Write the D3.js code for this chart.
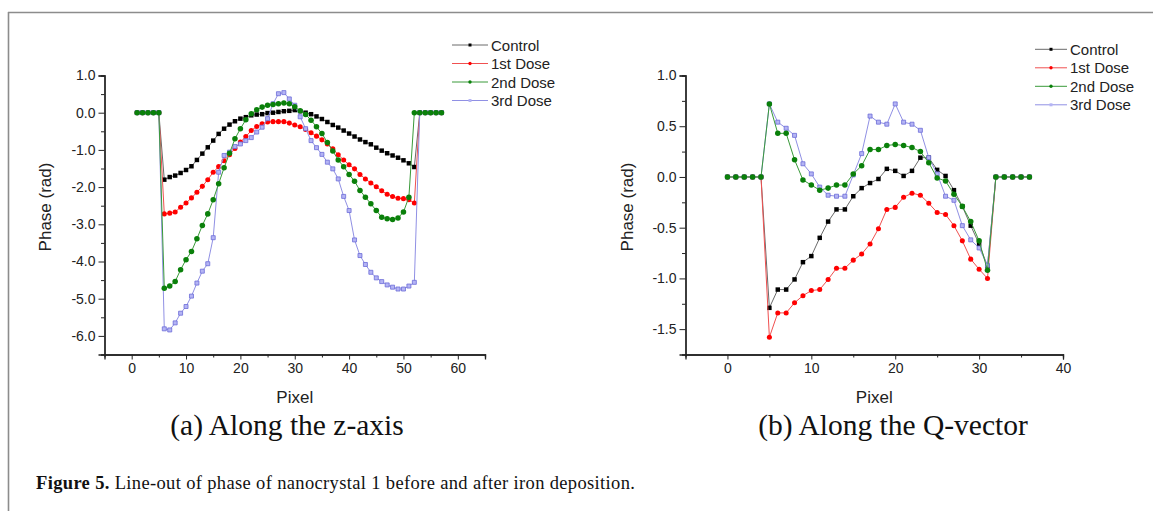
<!DOCTYPE html>
<html>
<head>
<meta charset="utf-8">
<script src="https://cdn.jsdelivr.net/npm/d3@7"></script>
<style>
  body { margin: 0; background: #fff; }
</style>
</head>
<body>
<script>
// panel (a): pixel along z-axis
var zPixel = [1, 2, 3, 4, 5, 6, 7, 8, 9, 10, 11, 12, 13, 14, 15, 16, 17, 18, 19, 20,
    21, 22, 23, 24, 25, 26, 27, 28, 29, 30, 31, 32, 33, 34, 35, 36, 37, 38, 39, 40,
    41, 42, 43, 44, 45, 46, 47, 48, 49, 50, 51, 52, 53, 54, 55, 56, 57]
var zControl = [0, 0, 0, 0, 0, -1.80, -1.73, -1.69, -1.62, -1.54, -1.44, -1.27, -1.10, -0.93, -0.75, -0.57, -0.43, -0.32, -0.23, -0.16,
    -0.12, -0.07, -0.05, -0.04, -0.01, 0.00, 0.02, 0.04, 0.05, 0.07, 0.04, 0.00, -0.04, -0.10, -0.17, -0.25, -0.33, -0.40, -0.48, -0.56,
    -0.64, -0.72, -0.79, -0.85, -0.94, -1.02, -1.09, -1.15, -1.21, -1.28, -1.36, -1.46, 0, 0, 0, 0, 0]
var zDose1 = [0, 0, 0, 0, 0, -2.72, -2.70, -2.67, -2.54, -2.43, -2.29, -2.14, -1.98, -1.80, -1.60, -1.45, -1.29, -1.13, -0.96, -0.79,
    -0.64, -0.48, -0.37, -0.30, -0.25, -0.24, -0.24, -0.24, -0.28, -0.33, -0.38, -0.45, -0.54, -0.63, -0.73, -0.84, -0.97, -1.13, -1.27, -1.40,
    -1.51, -1.66, -1.78, -1.89, -1.99, -2.10, -2.19, -2.25, -2.30, -2.31, -2.34, -2.43, 0, 0, 0, 0, 0]
var zDose2 = [0, 0, 0, 0, 0, -4.72, -4.66, -4.54, -4.22, -3.95, -3.73, -3.39, -3.03, -2.72, -2.34, -1.91, -1.48, -1.09, -0.70, -0.43,
    -0.19, -0.03, 0.08, 0.15, 0.20, 0.22, 0.24, 0.26, 0.24, 0.16, 0.05, -0.05, -0.20, -0.38, -0.56, -0.80, -1.03, -1.27, -1.45, -1.66,
    -1.84, -2.09, -2.27, -2.45, -2.63, -2.81, -2.85, -2.87, -2.83, -2.67, -2.27, 0, 0, 0, 0, 0, 0]
var zDose3 = [0, 0, 0, 0, 0, -5.81, -5.84, -5.65, -5.39, -5.21, -4.93, -4.58, -4.26, -4.06, -3.36, -1.60, -1.15, -1.06, -0.91, -0.84,
    -0.75, -0.67, -0.52, -0.39, -0.16, 0.24, 0.51, 0.54, 0.37, 0.20, -0.11, -0.43, -0.75, -0.94, -1.12, -1.33, -1.51, -1.78, -2.25, -2.63,
    -3.42, -3.84, -4.08, -4.29, -4.44, -4.54, -4.63, -4.69, -4.74, -4.74, -4.66, -4.56, 0, 0, 0, 0, 0]

// panel (b): pixel along Q-vector
var qPixel = [0, 1, 2, 3, 4, 5, 6, 7, 8, 9, 10, 11, 12, 13, 14, 15, 16, 17, 18,
    19, 20, 21, 22, 23, 24, 25, 26, 27, 28, 29, 30, 31, 32, 33, 34, 35, 36]
var qControl = [0, 0, 0, 0, 0, -1.29, -1.11, -1.11, -1.01, -0.84, -0.78, -0.60, -0.44, -0.32, -0.32, -0.19, -0.11, -0.06, -0.02,
    0.08, 0.06, 0.01, 0.06, 0.19, 0.19, 0.07, 0.01, -0.13, -0.29, -0.48, -0.66, -0.88, 0, 0, 0, 0, 0]
var qDose1 = [0, 0, 0, 0, 0, -1.58, -1.34, -1.34, -1.24, -1.17, -1.12, -1.11, -1.01, -0.90, -0.90, -0.82, -0.76, -0.66, -0.51,
    -0.32, -0.30, -0.20, -0.16, -0.18, -0.26, -0.35, -0.37, -0.48, -0.63, -0.81, -0.91, -1.00, 0, 0, 0, 0, 0]
var qDose2 = [0, 0, 0, 0, 0, 0.72, 0.43, 0.43, 0.17, -0.03, -0.08, -0.13, -0.11, -0.08, -0.08, 0.03, 0.11, 0.27, 0.27,
    0.31, 0.32, 0.31, 0.29, 0.25, 0.14, -0.01, -0.04, -0.17, -0.29, -0.44, -0.63, -0.92, 0, 0, 0, 0, 0]
var qDose3 = [0, 0, 0, 0, 0, 0.72, 0.54, 0.48, 0.41, 0.13, 0.03, -0.10, -0.18, -0.19, -0.19, 0.02, 0.23, 0.60, 0.54,
    0.52, 0.72, 0.54, 0.52, 0.46, 0.19, 0.03, -0.19, -0.23, -0.48, -0.62, -0.70, -0.87, 0, 0, 0, 0, 0]

var seriesNames = ["Control", "1st Dose", "2nd Dose", "3rd Dose"]
var zTicksY = [1, 0, -1, -2, -3, -4, -5, -6]
var qTicksY = [1, 0.5, 0, -0.5, -1, -1.5]

var width = 1153
var height = 511
var sans = "'Liberation Sans', Arial, sans-serif"
var serif = "'Liberation Serif', 'Times New Roman', serif"

// marker / line style per series
var styles = [
    { line: "#6a6a6a", fill: "#000000", stroke: "none", symbol: d3.symbolSquare, size: 20 },
    { line: "#f05050", fill: "#ff0000", stroke: "none", symbol: d3.symbolCircle, size: 20 },
    { line: "#3a9a3a", fill: "#0a800a", stroke: "none", symbol: d3.symbolCircle, size: 24 },
    { line: "#9090e4", fill: "#b4b4f4", stroke: "#6c6cd8", symbol: d3.symbolSquare, size: 16 }
]
// drawing order so that green sits on top on the flat parts
var drawOrder = [0, 1, 3, 2]

var svg = d3.select("body")
    .append("svg")
    .attr("width", width)
    .attr("height", height)

// page frame
svg.append("line").attr("x1", 8).attr("x2", width).attr("y1", 12.5).attr("y2", 12.5)
    .attr("stroke", "#8c8c8c").attr("stroke-width", 1.6)
svg.append("line").attr("x1", 8.5).attr("x2", 8.5).attr("y1", 12).attr("y2", height)
    .attr("stroke", "#8c8c8c").attr("stroke-width", 1.6)

function drawPanel(p) {
    var g = svg.append("g")

    var x = d3.scaleLinear().domain(p.xDomain).range(p.xRange)
    var y = d3.scaleLinear().domain(p.yDomain).range([354.5, 75.5])

    // axes: major ticks with labels, minor ticks without
    var xAxis = d3.axisBottom(x).tickValues(p.xTicks).tickSize(5).tickPadding(4)
        .tickFormat(d3.format("d"))
    var xMinor = d3.axisBottom(x).tickValues(p.xMinor).tickSize(3).tickFormat("")
    var yAxis = d3.axisLeft(y).tickValues(p.yTicks).tickSize(6).tickPadding(3)
        .tickFormat(function (d) { return d.toFixed(1) })
    var yMinor = d3.axisLeft(y).tickValues(p.yMinor).tickSize(3.5).tickFormat("")

    var gx = g.append("g").attr("transform", "translate(0," + y.range()[0] + ")").call(xAxis)
    g.append("g").attr("transform", "translate(0," + y.range()[0] + ")").call(xMinor)
    var gy = g.append("g").attr("transform", "translate(" + x.range()[0] + ",0)").call(yAxis)
    g.append("g").attr("transform", "translate(" + x.range()[0] + ",0)").call(yMinor)

    g.selectAll(".domain").attr("stroke", "#222").attr("stroke-width", 1.3)
    g.selectAll(".tick line").attr("stroke", "#222").attr("stroke-width", 1)
    gx.selectAll("text").attr("font-size", 14).attr("fill", "#222").style("font-family", sans)
    gy.selectAll("text").attr("font-size", 14).attr("fill", "#222").style("font-family", sans)

    // series
    var line = d3.line()
        .x(function (d) { return x(d.x) })
        .y(function (d) { return y(d.y) })

    for (var k of drawOrder) {
        var data = p.xs.map(function (v, i) { return { x: v, y: p.series[k][i] } })
        var st = styles[k]
        g.append("path")
            .attr("d", line(data))
            .attr("fill", "none")
            .attr("stroke", st.line)
            .attr("stroke-width", 1)
        g.append("g").selectAll("path")
            .data(data)
            .join("path")
            .attr("transform", function (d) { return "translate(" + x(d.x) + "," + y(d.y) + ")" })
            .attr("d", d3.symbol().type(st.symbol).size(st.size))
            .attr("fill", st.fill)
            .attr("stroke", st.stroke)
            .attr("stroke-width", 0.8)
    }

    // axis titles
    g.append("text")
        .attr("transform", "translate(" + p.yLabelX + ",207) rotate(-90)")
        .attr("text-anchor", "middle")
        .attr("dominant-baseline", "central")
        .attr("font-size", 17)
        .attr("fill", "#222")
        .style("font-family", sans)
        .text("Phase (rad)")
    g.append("text")
        .attr("x", (x.range()[0] + x.range()[1]) / 2)
        .attr("y", 403)
        .attr("text-anchor", "middle")
        .attr("font-size", 17)
        .attr("fill", "#222")
        .style("font-family", sans)
        .text("Pixel")

    // sub caption
    g.append("text")
        .attr("x", p.subX)
        .attr("y", 435)
        .attr("text-anchor", "middle")
        .attr("font-size", 29.5)
        .attr("fill", "#111")
        .style("font-family", serif)
        .text(p.sub)

    // legend
    var lg = g.append("g")
    seriesNames.forEach(function (name, i) {
        var ly = p.legendY + i * 18.5
        var st = styles[i]
        lg.append("line")
            .attr("x1", p.legendX).attr("x2", p.legendX + p.legendLen)
            .attr("y1", ly).attr("y2", ly)
            .attr("stroke", st.line).attr("stroke-width", 1)
        lg.append("path")
            .attr("transform", "translate(" + (p.legendX + p.legendLen / 2) + "," + ly + ")")
            .attr("d", d3.symbol().type(st.symbol).size(9))
            .attr("fill", st.fill)
        lg.append("text")
            .attr("x", p.legendX + p.legendLen + 3)
            .attr("y", ly)
            .attr("dominant-baseline", "central")
            .attr("font-size", 15)
            .attr("fill", "#222")
            .style("font-family", sans)
            .text(name)
    })
}

drawPanel({
    xs: zPixel,
    series: [zControl, zDose1, zDose2, zDose3],
    xDomain: [-5, 65], xRange: [104.5, 485],
    yDomain: [-6.5, 1],
    xTicks: [0, 10, 20, 30, 40, 50, 60],
    xMinor: [5, 15, 25, 35, 45, 55, 65],
    yTicks: zTicksY,
    yMinor: [0.5, -0.5, -1.5, -2.5, -3.5, -4.5, -5.5],
    yLabelX: 45,
    sub: "(a) Along the z-axis", subX: 287,
    legendX: 452, legendLen: 36, legendY: 45
})

drawPanel({
    xs: qPixel,
    series: [qControl, qDose1, qDose2, qDose3],
    xDomain: [-5, 40], xRange: [685.5, 1063],
    yDomain: [-1.75, 1],
    xTicks: [0, 10, 20, 30, 40],
    xMinor: [5, 15, 25, 35],
    yTicks: qTicksY,
    yMinor: [0.75, 0.25, -0.25, -0.75, -1.25],
    yLabelX: 627,
    sub: "(b) Along the Q-vector", subX: 893,
    legendX: 1035, legendLen: 32, legendY: 49.3
})

// figure caption
var cap = svg.append("text")
    .attr("x", 36)
    .attr("y", 489)
    .attr("font-size", 18.5)
    .attr("fill", "#111")
    .style("font-family", serif)
    .style("letter-spacing", "0.35px")
cap.append("tspan").attr("font-weight", "bold").text("Figure 5.")
cap.append("tspan").text(" Line-out of phase of nanocrystal 1 before and after iron deposition.")
</script>
</body>
</html>
